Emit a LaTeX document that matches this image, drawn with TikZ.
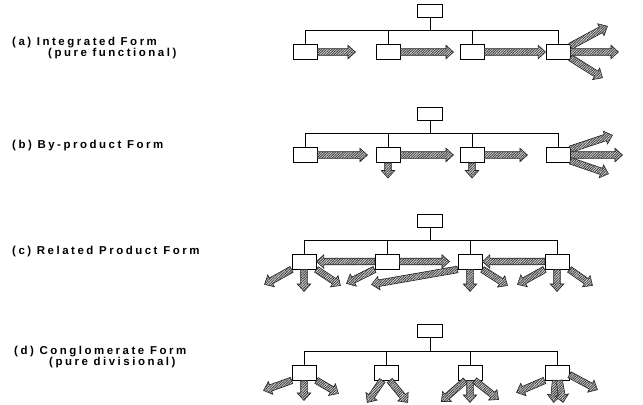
\documentclass[tikz,border=0pt]{standalone}
\usepackage{fontspec}
\newfontfamily\lblfont[LetterSpace=22]{Liberation Sans Bold}
\usetikzlibrary{calc, patterns.meta, positioning}

% hatched broad arrow from #1 to #2
\newcommand{\fat}[2]{%
  \draw[fatarr] ($(#1)!3.3pt!90:(#2)$)
    -- ($(#2)!7.5pt!(#1)!3.3pt!-90:(#1)$)
    -- ($(#2)!7.5pt!(#1)!6.8pt!-90:(#1)$)
    -- (#2)
    -- ($(#2)!7.5pt!(#1)!6.8pt!90:(#1)$)
    -- ($(#2)!7.5pt!(#1)!3.3pt!90:(#1)$)
    -- ($(#1)!3.3pt!-90:(#2)$) -- cycle;}
% same, free end given as offset and named
\newcommand{\fatoff}[3]{%
  \path (#1) ++(#2) coordinate (#3);
  \fat{#1}{#3}}

\begin{document}
\begin{tikzpicture}[
    x=1bp, y=-1bp,
    box/.style={rectangle, draw, fill=white, line width=0.9pt,
                minimum width=24bp, minimum height=15bp, inner sep=0},
    topbox/.style={box, minimum width=25bp, minimum height=13bp},
    tree/.style={line width=0.9pt},
    fatarr/.style={draw=black!85, line width=0.6pt,
                   preaction={fill=gray!30},
                   pattern={Lines[angle=45, distance=1.8pt, line width=0.85pt]},
                   pattern color=black!75},
    lbl/.style={anchor=west, inner sep=0,
                font=\lblfont\fontsize{11.5}{13}\selectfont}
  ]
  \fill[white] (0,0) rectangle (643,404);
  \useasboundingbox (0,0) rectangle (643,404);

  % labels
  \node[lbl] (la)  at (12,43)  {(a) Integrated Form};
  \node[lbl] (la2) at (48,54)  {(pure functional)};
  \node[lbl] (lb)  at (12,146) {(b) By-product Form};
  \node[lbl] (lc)  at (12,252) {(c) Related Product Form};
  \node[lbl] (ld)  at (14,352) {(d) Conglomerate Form};
  \node[lbl] (ld2) at (49,363) {(pure divisional)};

  % (a) integrated form
  \node[topbox] (a0) at (430,11) {};
  \node[box] (a1) at (305,52) {};
  \node[box] (a2) at (388,52) {};
  \node[box] (a3) at (472,52) {};
  \node[box] (a4) at (558,52) {};
  \coordinate (abar) at (430,30);
  \draw[tree] (a0) -- (abar);
  \foreach \n in {a1,a2,a3,a4} \draw[tree] (abar) -| (\n);
  \fatoff{a1.east}{38,0}{a1r}
  \fatoff{a2.east}{53,0}{a2r}
  \fat{a3.east}{a4.west}
  \fatoff{a4.25}{37,-20}{a4u}
  \fatoff{a4.east}{48,0}{a4r}
  \fatoff{a4.-25}{32,20}{a4d}

  % (b) by-product form
  \node[topbox] (b0) at (430,113.5) {};
  \node[box] (b1) at (305,155) {};
  \node[box] (b2) at (388,155) {};
  \node[box] (b3) at (472,155) {};
  \node[box] (b4) at (558,155) {};
  \coordinate (bbar) at (430,133);
  \draw[tree] (b0) -- (bbar);
  \foreach \n in {b1,b2,b3,b4} \draw[tree] (bbar) -| (\n);
  \fatoff{b1.east}{50,0}{b1r}
  \fatoff{b2.east}{53,0}{b2r}
  \fatoff{b2.south}{0,15}{b2d}
  \fatoff{b3.east}{43,0}{b3r}
  \fatoff{b3.south}{0,15}{b3d}
  \fatoff{b4.25}{42,-14}{b4u}
  \fatoff{b4.east}{52,0}{b4r}
  \fatoff{b4.-25}{38,13}{b4d}

  % (c) related product form
  \node[topbox] (c0) at (430,221) {};
  \node[box] (c1) at (304,261.5) {};
  \node[box] (c2) at (387,261.5) {};
  \node[box] (c3) at (470,261.5) {};
  \node[box] (c4) at (557,261.5) {};
  \coordinate (cbar) at (430,240);
  \draw[tree] (c0) -- (cbar);
  \foreach \n in {c1,c2,c3,c4} \draw[tree] (cbar) -| (\n);
  \fatoff{c1.south west}{-27,15}{c1l}
  \fatoff{c1.south}{0,22}{c1d}
  \fatoff{c1.south east}{24,16}{c1r}
  \fat{c2.west}{c1.east}
  \fatoff{c2.east}{50,0}{c2r}
  \fatoff{c2.south west}{-28,14}{c2l}
  \fatoff{c3.south west}{-86,15}{c3l}
  \fatoff{c3.south}{0,22}{c3d}
  \fatoff{c3.south east}{25,16}{c3r}
  \fat{c4.west}{c3.east}
  \fatoff{c4.south west}{-27,15}{c4l}
  \fatoff{c4.south}{0,22}{c4d}
  \fatoff{c4.south east}{23,16}{c4r}

  % (d) conglomerate form
  \node[topbox] (d0) at (430,331) {};
  \node[box] (d1) at (304,372.5) {};
  \node[box] (d2) at (386,372.5) {};
  \node[box] (d3) at (470,372.5) {};
  \node[box] (d4) at (557,372.5) {};
  \coordinate (dbar) at (430,351);
  \draw[tree] (d0) -- (dbar);
  \foreach \n in {d1,d2,d3,d4} \draw[tree] (dbar) -| (\n);
  \fatoff{d1.south west}{-28,10}{d1l}
  \fatoff{d1.south}{0,20}{d1d}
  \fatoff{d1.south east}{22,13}{d1r}
  \fatoff{d2.-115}{-15,22}{d2l}
  \fatoff{d2.-65}{18,22}{d2r}
  \fatoff{d3.-120}{-24,21}{d3l}
  \fatoff{d3.south}{0,22}{d3d}
  \fatoff{d3.-60}{24,19}{d3r}
  \fatoff{d4.south west}{-28,12}{d4l}
  \fatoff{d4.-100}{-2,22}{d4d}
  \fatoff{d4.-75}{4,22}{d4e}
  \fatoff{d4.-10}{28,15}{d4r}
\end{tikzpicture}
\end{document}
